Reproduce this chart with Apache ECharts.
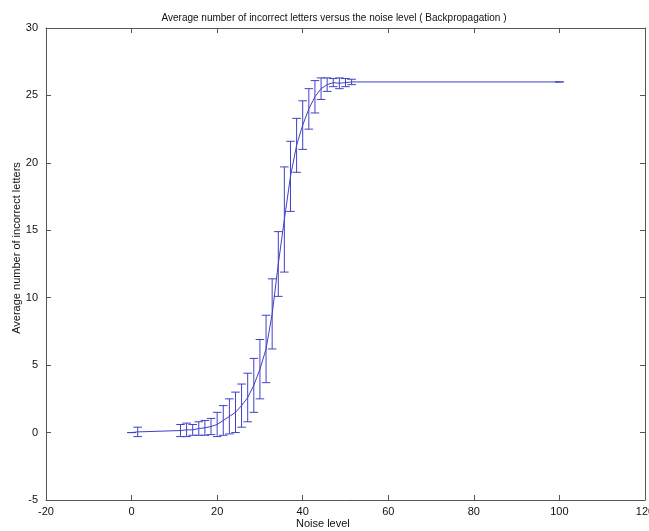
<!DOCTYPE html>
<html lang="en">
<head>
    <meta charset="UTF-8">
    <title>Backpropagation noise</title>
    <style>
        *{
            margin: 0;
            padding: 0;
        }
        html, body{
            height: 100%;
            width: 100%;
            background: #fff;
        }
        #chart{
            width: 649px;
            height: 531px;
        }
    </style>
</head>
<body>
<div id="chart"></div>
<script src="https://cdn.jsdelivr.net/npm/echarts@6/dist/echarts.min.js"></script>
<script>
    // noise levels (percent), mean number of wrong letters and the error half-widths
    var noiseLevel = [0, 1.43, 11.43, 12.86, 14.29, 15.71, 17.14, 18.57, 20, 21.43, 22.86, 24.29,
        25.71, 27.14, 28.57, 30, 31.43, 32.86, 34.29, 35.71, 37.14, 38.57, 40, 41.43, 42.86,
        44.29, 45.71, 47.14, 48.57, 50, 51.43, 100];
    var meanErrors = [0, 0.05, 0.15, 0.2, 0.2, 0.3, 0.35, 0.45, 0.6, 0.9, 1.2, 1.5,
        2.0, 2.6, 3.5, 4.7, 6.2, 8.8, 12.5, 15.8, 19.0, 21.3, 22.8, 24.0, 24.9,
        25.5, 25.8, 25.95, 25.9, 25.95, 26, 26];
    var errorSize = [0, 0.35, 0.45, 0.5, 0.4, 0.5, 0.55, 0.6, 0.9, 1.1, 1.3, 1.5,
        1.6, 1.8, 2.0, 2.2, 2.5, 2.6, 2.4, 3.9, 2.6, 2.0, 1.8, 1.5, 1.2,
        0.8, 0.5, 0.3, 0.4, 0.3, 0.2, 0];
    var xTicks = [-20, 120, 20];
    var yTicks = [-5, 30, 5];

    var blue = '#4040c8';
    var boxColor = '#555';
    var txt = '#111';
    var font = '"Liberation Sans", Arial, sans-serif';

    var lineData = [];
    var barData = [];
    for (var i = 0; i < noiseLevel.length; i++) {
        lineData.push([noiseLevel[i], meanErrors[i]]);
        barData.push([noiseLevel[i], meanErrors[i] - errorSize[i], meanErrors[i] + errorSize[i]]);
    }

    function renderBar(params, api) {
        var x = api.value(0);
        var lo = api.value(1);
        var hi = api.value(2);
        var top = api.coord([x, hi]);
        var bot = api.coord([x, lo]);
        var tl = api.coord([x - 1, hi]);
        var tr = api.coord([x + 1, hi]);
        var bl = api.coord([x - 1, lo]);
        var br = api.coord([x + 1, lo]);
        var st = {stroke: blue, lineWidth: 1};
        return {
            type: 'group',
            children: [
                {type: 'line', shape: {x1: top[0], y1: top[1], x2: bot[0], y2: bot[1]}, style: st},
                {type: 'line', shape: {x1: tl[0], y1: tl[1], x2: tr[0], y2: tr[1]}, style: st},
                {type: 'line', shape: {x1: bl[0], y1: bl[1], x2: br[0], y2: br[1]}, style: st}
            ]
        };
    }

    function boxAxis(pos, ticks, labels) {
        return {
            type: 'value',
            position: pos,
            min: ticks[0],
            max: ticks[1],
            interval: ticks[2],
            axisLine: {show: true, onZero: false, lineStyle: {color: boxColor, width: 1}},
            axisTick: {show: true, inside: true, length: 5, lineStyle: {color: boxColor}},
            axisLabel: {show: labels, color: txt, fontSize: 11, fontFamily: font, margin: 6},
            splitLine: {show: false}
        };
    }

    var chart = echarts.init(document.getElementById('chart'));
    var xb = boxAxis('bottom', xTicks, true);
    var xt = boxAxis('top', xTicks, false);
    var yl = boxAxis('left', yTicks, true);
    var yr = boxAxis('right', yTicks, false);
    yl.axisLabel.margin = 8;

    chart.setOption({
        animation: false,
        backgroundColor: '#fff',
        title: {
            text: 'Average number of incorrect letters versus the noise level ( Backpropagation )',
            left: 329,
            top: 8,
            textAlign: 'center',
            textStyle: {fontSize: 10, fontWeight: 'normal', color: txt, fontFamily: font}
        },
        grid: {left: 46, right: 4, top: 28, bottom: 31, outerBoundsMode: 'none', containLabel: false},
        xAxis: [xb, xt],
        yAxis: [yl, yr],
        graphic: [
            {type: 'text', left: 296, top: 518,
                style: {text: 'Noise level', fill: txt, font: '11px ' + font}},
            {type: 'text', x: 17, y: 248, rotation: Math.PI / 2,
                style: {text: 'Average number of incorrect letters', fill: txt,
                    font: '11px ' + font, textAlign: 'center', textVerticalAlign: 'middle'}}
        ],
        series: [
            {
                type: 'line',
                data: lineData,
                symbol: 'none',
                lineStyle: {color: blue, width: 1},
                z: 3
            },
            {
                type: 'custom',
                data: barData,
                renderItem: renderBar,
                encode: {x: 0, y: [1, 2]},
                z: 2
            }
        ]
    });
</script>
</body>
</html>
